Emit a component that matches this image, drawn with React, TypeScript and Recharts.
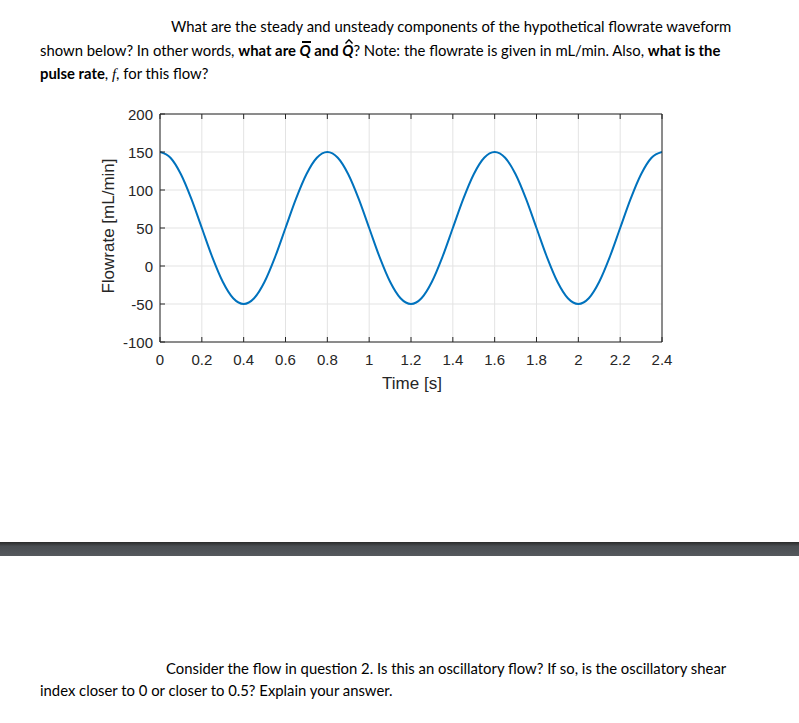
import React from "react";
import { CartesianGrid, Line, LineChart, XAxis, YAxis } from "recharts";

// values (every 0.05 s)
const times = [
  0, 0.05, 0.1, 0.15, 0.2, 0.25, 0.3, 0.35, 0.4, 0.45, 0.5, 0.55, 0.6, 0.65, 0.7, 0.75,
  0.8, 0.85, 0.9, 0.95, 1.0, 1.05, 1.1, 1.15, 1.2, 1.25, 1.3, 1.35, 1.4, 1.45, 1.5, 1.55,
  1.6, 1.65, 1.7, 1.75, 1.8, 1.85, 1.9, 1.95, 2.0, 2.05, 2.1, 2.15, 2.2, 2.25, 2.3, 2.35,
  2.4,
];
const flowrate = [
  150, 142.4, 120.7, 88.3, 50, 11.7, -20.7, -42.4, -50, -42.4, -20.7, 11.7, 50, 88.3, 120.7, 142.4,
  150, 142.4, 120.7, 88.3, 50, 11.7, -20.7, -42.4, -50, -42.4, -20.7, 11.7, 50, 88.3, 120.7, 142.4,
  150, 142.4, 120.7, 88.3, 50, 11.7, -20.7, -42.4, -50, -42.4, -20.7, 11.7, 50, 88.3, 120.7, 142.4,
  150,
];
const xTicks = [0, 0.2, 0.4, 0.6, 0.8, 1, 1.2, 1.4, 1.6, 1.8, 2, 2.2, 2.4];
const xTickLabels = ["0", "0.2", "0.4", "0.6", "0.8", "1", "1.2", "1.4", "1.6", "1.8", "2", "2.2", "2.4"];
const yTicks = [-100, -50, 0, 50, 100, 150, 200];
const yTickLabels = ["-100", "-50", "0", "50", "100", "150", "200"];

const data = times.map((t, i) => ({ t, q: flowrate[i] }));

const AXIS = "#262626";
const TICK_FONT = "'Liberation Sans', Arial, sans-serif";
const TEXT_FONT = "Lato, 'Open Sans', sans-serif";

const BottomTick = ({ x, y, index }: any) => (
  <g>
    <line x1={x} y1={y} x2={x} y2={y - 5} stroke={AXIS} strokeWidth={1} />
    <text x={x} y={y + 17} textAnchor="middle" dominantBaseline="central" fontSize={15} fill={AXIS} fontFamily={TICK_FONT}>
      {xTickLabels[index]}
    </text>
  </g>
);
const TopTick = ({ x, y }: any) => <line x1={x} y1={y} x2={x} y2={y + 5} stroke={AXIS} strokeWidth={1} />;
const LeftTick = ({ x, y, index }: any) => (
  <g>
    <line x1={x} y1={y} x2={x + 5} y2={y} stroke={AXIS} strokeWidth={1} />
    <text x={x - 7} y={y} textAnchor="end" dominantBaseline="central" fontSize={15} fill={AXIS} fontFamily={TICK_FONT}>
      {yTickLabels[index]}
    </text>
  </g>
);
const RightTick = ({ x, y }: any) => <line x1={x} y1={y} x2={x - 5} y2={y} stroke={AXIS} strokeWidth={1} />;

const MarkedQ = ({ mark }: { mark: "bar" | "hat" }) => (
  <span style={{ position: "relative", display: "inline-block", fontStyle: "italic" }}>
    Q
    {mark === "bar" ? (
      <span style={{ position: "absolute", left: 2, right: 0, top: 0, height: 1.5, background: "#000" }} />
    ) : (
      <svg width={8} height={5} style={{ position: "absolute", left: 3, top: -2 }}>
        <path d="M0.5 4.5 L4 0.8 L7.5 4.5" fill="none" stroke="#000" strokeWidth={1.4} />
      </svg>
    )}
  </span>
);

const line = (left: number, top: number): React.CSSProperties => ({
  position: "absolute",
  left,
  top,
  whiteSpace: "nowrap",
  fontFamily: TEXT_FONT,
  fontSize: 14.85,
  lineHeight: "18px",
  color: "#000",
});

export default function App() {
  return (
    <div style={{ position: "absolute", left: 0, top: 0, width: 799, height: 723, background: "#fff", overflow: "hidden" }}>
      <div style={line(171, 17)}>What are the steady and unsteady components of the hypothetical flowrate waveform</div>
      <div style={line(40, 41)}>
        shown below? In other words, <b>what are <MarkedQ mark="bar" /> and <MarkedQ mark="hat" /></b>? Note: the flowrate is given in mL/min. Also,{" "}
        <b>what is the</b>
      </div>
      <div style={line(40, 64)}>
        <b>pulse rate</b>, <i style={{ fontFamily: "'Liberation Serif', serif" }}>f</i>, for this flow?
      </div>

      <div style={{ position: "absolute", left: 0, top: 0 }}>
        <LineChart width={799} height={420} data={data} margin={{ top: 94, right: 117, bottom: 48, left: 110 }}>
          <CartesianGrid stroke="#e3e3e3" strokeWidth={1} horizontalValues={yTicks} verticalValues={xTicks} />
          <XAxis
            dataKey="t"
            type="number"
            domain={[0, 2.4]}
            ticks={xTicks}
            height={30}
            tickSize={0}
            tickMargin={0}
            axisLine={{ stroke: AXIS }}
            tickLine={false}
            tick={<BottomTick />}
            interval={0}
            allowDataOverflow
          />
          <XAxis
            xAxisId="top"
            orientation="top"
            dataKey="t"
            type="number"
            domain={[0, 2.4]}
            ticks={xTicks}
            height={20}
            tickSize={0}
            tickMargin={0}
            axisLine={{ stroke: AXIS }}
            tickLine={false}
            tick={<TopTick />}
            interval={0}
          />
          <YAxis
            type="number"
            domain={[-100, 200]}
            ticks={yTicks}
            width={50}
            tickSize={0}
            tickMargin={0}
            axisLine={{ stroke: AXIS }}
            tickLine={false}
            tick={<LeftTick />}
            interval={0}
            allowDataOverflow
          />
          <YAxis
            yAxisId="right"
            orientation="right"
            type="number"
            domain={[-100, 200]}
            ticks={yTicks}
            width={20}
            tickSize={0}
            tickMargin={0}
            axisLine={{ stroke: AXIS }}
            tickLine={false}
            tick={<RightTick />}
            interval={0}
          />
          <Line type="monotone" dataKey="q" stroke="#0072BD" strokeWidth={2} dot={false} isAnimationActive={false} />
          <text x={108} y={226} transform="rotate(-90 108 226)" textAnchor="middle" dominantBaseline="central" fontSize={17} fill={AXIS} fontFamily={TICK_FONT}>
            Flowrate [mL/min]
          </text>
          <text x={412} y={383} textAnchor="middle" dominantBaseline="central" fontSize={17} fill={AXIS} fontFamily={TICK_FONT}>
            Time [s]
          </text>
        </LineChart>
      </div>

      <div
        style={{
          position: "absolute",
          left: 0,
          top: 542,
          width: 799,
          height: 14,
          background: "linear-gradient(#2a2a2a 0%, #4a4e52 30%, #55595d 100%)",
        }}
      />

      <div style={line(166, 659)}>Consider the flow in question 2. Is this an oscillatory flow? If so, is the oscillatory shear</div>
      <div style={line(40, 681)}>index closer to 0 or closer to 0.5? Explain your answer.</div>
    </div>
  );
}
